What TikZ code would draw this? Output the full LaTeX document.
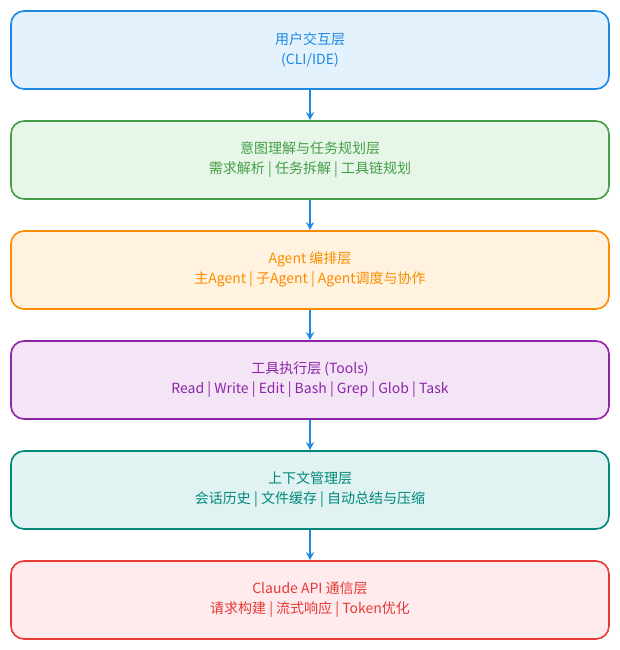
\documentclass[tikz,border=0pt]{standalone}
\usepackage{fontspec}
\setmainfont{Noto Sans CJK SC}
\usetikzlibrary{arrows.meta}
\definecolor{cA}{HTML}{1E88E5}\definecolor{fA}{HTML}{E3F2FD}
\definecolor{cB}{HTML}{43A047}\definecolor{fB}{HTML}{E8F5E9}
\definecolor{cC}{HTML}{FB8C00}\definecolor{fC}{HTML}{FFF3E0}
\definecolor{cD}{HTML}{8E24AA}\definecolor{fD}{HTML}{F3E5F5}
\definecolor{cE}{HTML}{00897B}\definecolor{fE}{HTML}{E0F2F1}
\definecolor{cF}{HTML}{E53935}\definecolor{fF}{HTML}{FFEBEE}
\begin{document}
\begin{tikzpicture}[x=1pt,y=-1pt,
  layer/.style={draw=#1,text=#1,line width=1.6pt,rounded corners=13pt,minimum width=598pt,minimum height=78pt,align=center,font=\fontsize{14}{20}\selectfont},
  conn/.style={draw=cA,line width=1.5pt,-{Stealth[length=8pt,width=8pt]}}]
\useasboundingbox (0,0) rectangle (620,650);
\node[layer=cA,fill=fA] (a) at (310,50) {用户交互层\\(CLI/IDE)};
\node[layer=cB,fill=fB] (b) at (310,160) {意图理解与任务规划层\\需求解析 | 任务拆解 | 工具链规划};
\node[layer=cC,fill=fC] (c) at (310,270) {Agent 编排层\\主Agent | 子Agent | Agent调度与协作};
\node[layer=cD,fill=fD] (d) at (310,380) {工具执行层 (Tools)\\Read | Write | Edit | Bash | Grep | Glob | Task};
\node[layer=cE,fill=fE] (e) at (310,490) {上下文管理层\\会话历史 | 文件缓存 | 自动总结与压缩};
\node[layer=cF,fill=fF] (f) at (310,600) {Claude API 通信层\\请求构建 | 流式响应 | Token优化};
\draw[conn] (a) -- (b);
\draw[conn] (b) -- (c);
\draw[conn] (c) -- (d);
\draw[conn] (d) -- (e);
\draw[conn] (e) -- (f);
\end{tikzpicture}
\end{document}
